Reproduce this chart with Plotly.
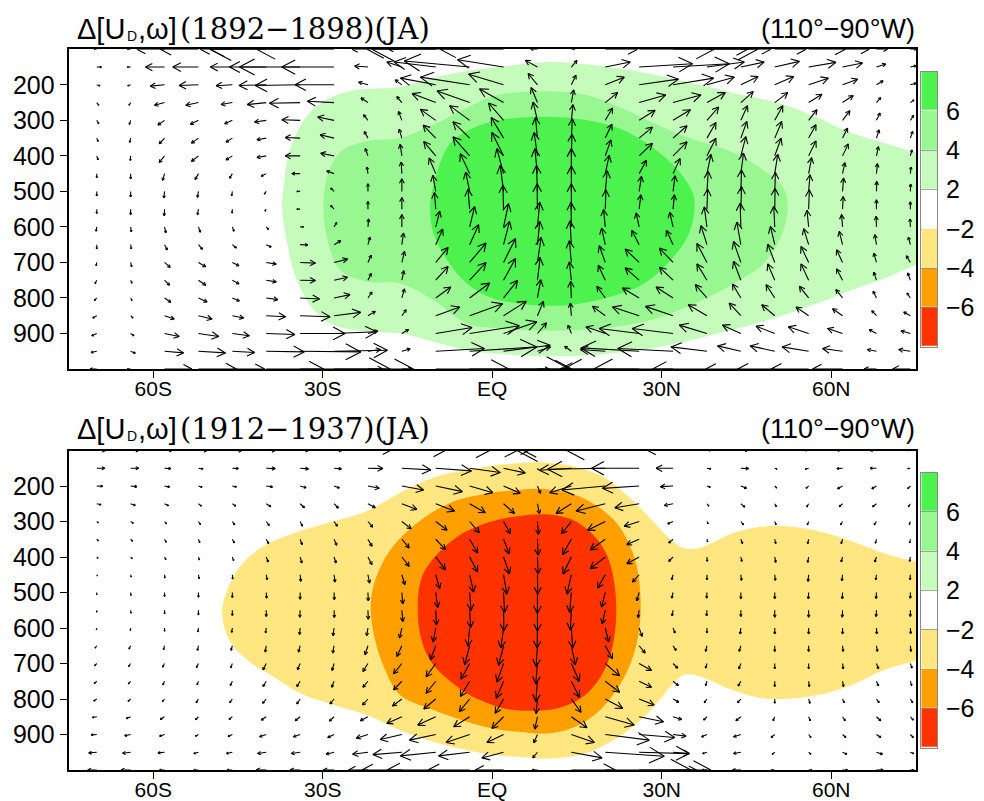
import math
import plotly.graph_objects as go

# ---------- data ----------
lat_grid = [-70, -64, -58, -52, -46, -40, -34, -28, -22, -16, -10, -4, 2, 8, 14, 20, 26, 32, 38, 44, 50, 56, 62, 68, 74]
p_grid = [100, 150, 200, 250, 300, 350, 400, 450, 500, 550, 600, 650, 700, 750, 800, 850, 900, 950, 1000]

p_ticks = [200, 300, 400, 500, 600, 700, 800, 900]
lat_ticks = [-60, -30, 0, 30, 60]
lat_labels = ["60S", "30S", "EQ", "30N", "60N"]
cb_levels = ["−6", "−4", "−2", "2", "4", "6"]
cb_colors = ["#FF3300", "#FFA000", "#FFE680", "#FFFFFF", "#C6FCBB", "#98F790", "#4DF24F"]

title_parts = ["Δ[U", "D", ",ω]"]
title_spans = ["(1892−1898)(JA)", "(1912−1937)(JA)"]
region_label = "(110°−90°W)"

# anomaly contour outlines: upper panel
top_pos2_lat = [-37.2, -36.9, -35.8, -32.8, -29.3, -24.5, -16.3, -10.4, -4.5, 0.2, 9.8, 19.2, 26.9, 34, 42.8, 51.7, 57.6, 63.5, 69.4, 75, 78, 78, 75, 69.4, 63.5, 57.6, 51.7, 45.8, 39.9, 34, 28, 22.2, 16.3, 9.8, 4.5, 0, -4.5, -10.4, -16.3, -22.2, -28.1, -31.6, -34.6, -36.3, -37.2]
top_pos2_p = [542, 486, 382, 288, 241, 215, 206, 180, 161, 152, 136, 147, 166, 190, 223, 256, 293, 335, 364, 392, 410, 690, 707, 745, 778, 815, 848, 876, 900, 923, 942, 954, 962, 964, 961, 956, 947, 923, 900, 895, 876, 834, 749, 646, 542]
top_pos4_lat = [-29.9, -29, -26.6, -22, -16.3, -10.4, -4.5, 0, 4.5, 9.8, 16.3, 22.2, 28, 34, 42.8, 48.7, 51.7, 52.3, 51.1, 48.1, 42.8, 35.2, 28.1, 19.2, 9.8, 1.5, -4.5, -10.4, -16.3, -22.2, -26.9, -29, -29.9]
top_pos4_p = [542, 448, 385, 358, 350, 312, 265, 232, 221, 218, 227, 260, 303, 345, 392, 448, 495, 552, 627, 702, 759, 820, 862, 886, 892, 886, 872, 806, 759, 754, 721, 646, 542]
top_pos6_lat = [-11, -9.8, -7.4, -3.3, 0, 4.5, 9.8, 16.3, 22.2, 28.1, 32.8, 35.5, 35.8, 34.6, 31.6, 26.9, 21, 15.1, 9.8, 4.5, 0, -4.5, -8, -10.4, -11]
top_pos6_p = [542, 448, 364, 321, 303, 293, 290, 298, 321, 373, 439, 505, 552, 627, 693, 759, 796, 817, 822, 815, 801, 759, 693, 618, 542]

# anomaly contour outlines: lower panel
bot_neg2_lat = [-47.8, -47, -44.6, -40.5, -34, -28.1, -22.2, -16.3, -10.4, -4.5, 0, 4.5, 9.8, 15.1, 19.8, 24, 28.1, 31.6, 34, 36.3, 38.7, 42.8, 47.6, 51.7, 57.6, 63.5, 69.4, 75, 78, 78, 75, 69.4, 63.5, 57.6, 51.7, 47, 41.7, 36.9, 34, 31.6, 28.1, 24.5, 20.4, 16.3, 9.8, 4.5, 0, -4.5, -10.4, -16.3, -22.2, -28.1, -34, -38.7, -42.2, -45.8, -47.3, -47.8]
bot_neg2_p = [549, 497, 426, 370, 327, 299, 271, 219, 176, 155, 143, 136, 134, 148, 176, 228, 294, 351, 376, 376, 362, 332, 315, 313, 327, 355, 390, 414, 430, 680, 692, 718, 761, 789, 800, 796, 770, 737, 732, 765, 831, 883, 925, 954, 968, 963, 958, 944, 921, 888, 845, 817, 784, 737, 704, 652, 605, 549]
bot_neg4_lat = [-21.5, -20.7, -18, -13.3, -7.4, 0, 4.5, 9.8, 14.5, 18.6, 22.2, 25.1, 26.2, 26, 24.5, 21.6, 18.1, 13.9, 9.8, 4.5, 0, -4.5, -10.4, -16.3, -19.2, -21, -21.5]
bot_neg4_p = [530, 464, 379, 304, 247, 219, 211, 209, 224, 257, 308, 398, 501, 605, 699, 784, 845, 883, 897, 892, 883, 864, 831, 789, 709, 615, 530]
bot_neg6_lat = [-13.2, -12.4, -9.8, -7.2, -4.5, 0, 4.5, 9.8, 14, 17.5, 20.4, 21.9, 21.3, 19.2, 15.7, 11.6, 7.4, 2.1, -1.4, -4.5, -10.4, -12.4, -13.2]
bot_neg6_p = [544, 454, 393, 355, 327, 299, 285, 280, 294, 332, 398, 520, 652, 737, 798, 826, 833, 827, 808, 784, 704, 640, 544]

# circulation vectors, rows follow p_grid, columns follow lat_grid
top_u = [
 [-8,-10,-83,-114,-96,-168,-270,-232,-48,-40,-206,-293,-190,-20,10,97,225,254,122,90,94,110,80,33,17],
 [14,-10,-57,-77,-66,-110,-182,-157,-40,-45,-125,-196,-138,-36,17,75,160,169,112,70,74,82,60,28,17],
 [10,-9,-43,-58,-49,-82,-135,-117,-28,-20,-106,-148,-105,-28,14,57,118,122,82,52,57,59,45,20,17],
 [6,-5,-30,-38,-34,-57,-92,-80,-21,-15,-71,-98,-72,-19,7,37,80,84,55,37,39,40,32,13,11],
 [6,-4,-20,-24,-23,-35,-55,-49,-13,-10,-46,-60,-45,-13,5,22,48,52,35,20,24,25,22,11,10],
 [4,-3,-16,-21,-19,-28,-45,-42,-11,-8,-38,-50,-37,-6,3,20,40,42,27,18,21,22,15,8,7],
 [4,-1,-16,-21,-19,-28,-45,-40,-8,-5,-36,-50,-35,-10,2,17,40,42,27,15,19,22,17,6,5],
 [0,0,-6,-10,-8,-15,-25,-22,-3,-2,-20,-28,-20,-8,0,12,22,21,12,8,9,9,7,3,2],
 [0,0,-2,-3,-2,-6,-10,-10,0,0,-9,-12,-10,-3,0,6,7,6,4,2,2,4,3,1,1],
 [0,0,-1,-3,-1,-4,-10,-10,0,0,-4,-5,-2,-1,0,2,5,4,2,2,1,2,2,0,0],
 [-2,2,4,6,5,7,10,8,2,0,12,15,15,7,-1,-5,-9,-10,-8,-2,-3,-5,-3,-1,-1],
 [0,2,8,12,12,15,23,20,6,5,21,27,18,7,-4,-11,-22,-20,-18,-12,-13,-15,-10,-5,-6],
 [-2,3,17,22,20,30,46,41,10,8,37,49,36,11,-6,-18,-42,-41,-30,-22,-21,-23,-18,-8,-12],
 [-5,4,15,22,20,30,46,41,10,6,37,49,36,8,-6,-21,-42,-41,-30,-22,-21,-23,-18,-8,-8],
 [-7,4,19,26,21,35,58,48,12,8,45,60,42,10,-2,-25,-50,-51,-35,-25,-26,-28,-20,-10,-10],
 [-12,7,29,41,34,58,90,80,22,13,72,99,68,18,-3,-38,-80,-83,-56,-35,-39,-38,-30,-14,-20],
 [-15,10,44,61,51,86,135,128,30,20,109,149,100,27,-10,-58,-120,-123,-83,-55,-56,-61,-45,-22,-28],
 [-17,14,57,81,67,114,182,160,38,25,146,202,140,39,-20,-75,-175,-166,-108,-70,-74,-80,-60,-27,-35],
 [-20,-10,82,114,97,172,270,238,45,30,219,300,205,35,-25,-135,-227,-238,-163,-105,-111,-113,-90,-37,-53],
]
top_v = [
 [0]*25,
 [0,0,0,0,0,0,0,0,3,15,15,18,22,20,20,15,10,10,15,15,17,14,12,9,4],
 [-3,-3,-4,-2,-3,-2,-2,0,8,15,20,23,32,34,29,23,17,20,23,25,25,20,17,12,5],
 [-8,-8,-8,-8,-6,-6,-2,4,14,18,27,35,41,45,38,30,23,23,30,33,30,25,21,15,8],
 [-10,-12,-14,-12,-10,-5,2,10,17,27,33,44,52,55,47,37,30,32,40,44,44,32,29,22,15],
 [-10,-13,-17,-15,-12,-5,2,10,20,27,39,49,62,62,58,42,33,37,47,50,50,40,30,25,20],
 [-12,-14,-20,-17,-12,-5,0,8,22,35,43,57,70,70,65,48,38,42,53,58,53,45,36,28,18],
 [-12,-16,-20,-18,-14,-8,0,8,20,35,47,60,75,75,75,55,40,45,58,62,58,48,33,30,20],
 [-14,-17,-20,-18,-13,-8,0,10,23,38,48,58,78,78,76,62,45,47,60,65,57,50,40,30,22],
 [-13,-17,-20,-17,-12,-6,0,11,23,35,50,60,72,76,76,58,43,43,60,68,63,58,38,28,22],
 [-13,-15,-18,-16,-13,-8,0,13,24,37,47,61,70,74,74,52,42,44,60,72,62,50,37,32,24],
 [-13,-13,-16,-14,-10,-7,-1,12,23,35,47,60,70,70,72,50,43,43,57,68,55,48,40,30,23],
 [-10,-13,-15,-13,-10,-5,-2,10,22,33,45,58,72,75,65,50,40,43,57,63,55,48,38,28,20],
 [-10,-9,-15,-15,-11,-5,-1,9,20,29,41,53,65,68,55,45,37,39,49,57,49,49,34,24,22],
 [-8,-8,-13,-12,-9,-5,-3,10,18,27,33,45,53,55,50,35,30,33,40,42,40,35,25,20,15],
 [-7,-7,-10,-10,-7,-3,-3,10,13,18,26,36,43,43,38,28,26,28,33,38,33,26,21,15,11],
 [-7,-7,-9,-9,-7,-3,0,5,8,12,18,23,35,32,25,20,15,15,25,25,22,20,15,12,8],
 [-4,-6,-5,-5,-4,-2,-2,3,5,7,8,13,18,13,15,5,10,8,13,16,16,13,8,5,5],
 [0]*25,
]
bot_u = [
 [26,24,22,26,29,27,25,23,67,130,162,142,75,-5,-143,-265,-217,-76,10,20,-5,-10,-15,-18,-8],
 [24,24,19,14,18,27,25,22,45,87,107,92,65,3,-96,-173,-143,-51,12,23,7,-10,-17,-19,-8],
 [18,19,15,11,12,19,18,16,34,65,80,70,50,9,-65,-130,-110,-38,10,17,6,-8,-15,-14,-8],
 [13,14,12,9,10,14,13,13,22,45,56,47,33,6,-46,-88,-73,-26,6,12,5,-6,-10,-12,-6],
 [5,8,6,6,7,9,7,10,14,28,34,29,20,3,-30,-53,-45,-16,4,8,4,-4,-6,-7,-3],
 [5,6,5,4,6,7,6,8,12,22,29,24,17,2,-26,-45,-37,-13,2,5,3,-3,-4,-3,-2],
 [4,5,4,3,4,6,5,6,12,22,29,24,18,2,-25,-45,-37,-13,1,3,3,-3,-4,-5,-2],
 [2,2,1,2,1,3,2,3,5,9,12,12,10,1,-13,-23,-20,-4,0,2,2,-2,-2,-2,-1],
 [0,1,0,0,0,1,0,1,1,3,6,4,3,0,-5,-11,-7,-4,-1,0,0,-1,-1,-1,0],
 [0,1,0,0,0,0,-1,1,1,3,2,3,1,0,-3,-9,-3,-3,-1,0,0,0,-1,-1,0],
 [-1,-1,0,-2,-2,-2,-2,-3,-4,-7,-8,-5,-8,-1,4,10,9,6,0,-2,0,0,0,1,1],
 [-5,-5,-3,-3,-4,-3,-5,-4,-9,-15,-16,-15,-15,-4,12,22,18,9,-4,-5,0,0,2,3,2],
 [-7,-6,-6,-6,-5,-10,-8,-6,-15,-25,-29,-26,-20,-5,24,43,37,14,-4,-6,0,0,2,6,5],
 [-8,-7,-5,-4,-6,-10,-10,-7,-15,-25,-29,-28,-22,-5,24,43,37,16,-4,-8,0,2,3,6,4],
 [-9,-8,-7,-7,-8,-11,-10,-12,-16,-28,-36,-31,-25,-4,29,52,45,17,-8,-10,0,4,5,8,7],
 [-13,-13,-13,-9,-10,-15,-15,-14,-23,-45,-54,-48,-35,-8,47,87,73,26,-10,-15,-5,5,8,13,9],
 [-17,-18,-15,-9,-13,-20,-20,-19,-35,-65,-79,-71,-50,-11,69,132,107,39,-16,-22,-11,7,10,13,9],
 [-24,-24,-20,-14,-18,-26,-27,-24,-46,-87,-106,-93,-65,-14,92,177,150,49,-13,-22,-8,7,13,18,10],
 [-27,-29,-15,-14,-16,-30,-30,-32,-58,-120,-146,-125,-85,-16,132,257,215,70,-14,-25,-10,10,15,20,10],
]
bot_v = [
 [0]*25,
 [0,0,-1,-2,-1,-1,-2,-2,-1,-5,-8,-13,-14,-5,-6,-3,0,0,-2,-1,-3,-3,-1,0,-1],
 [-1,-2,-3,-4,-3,-3,-5,-6,-7,-12,-17,-20,-22,-22,-20,-12,-7,-2,-4,-7,-6,-7,-8,-8,-8],
 [-3,-5,-6,-7,-7,-9,-12,-13,-12,-17,-22,-27,-29,-30,-29,-22,-12,-5,-7,-10,-9,-10,-9,-9,-9],
 [-4,-5,-7,-9,-10,-12,-14,-14,-17,-22,-26,-34,-37,-39,-37,-26,-14,-7,-7,-10,-10,-10,-10,-10,-9],
 [-5,-6,-9,-10,-11,-13,-16,-18,-21,-26,-31,-41,-44,-48,-46,-32,-16,-11,-8,-13,-13,-13,-13,-12,-11],
 [-4,-5,-8,-9,-11,-15,-18,-18,-23,-28,-38,-45,-51,-51,-51,-35,-20,-13,-13,-13,-16,-16,-15,-15,-13],
 [-4,-7,-10,-12,-13,-15,-20,-22,-25,-30,-42,-52,-58,-58,-58,-40,-22,-15,-15,-17,-17,-20,-18,-15,-15],
 [-7,-9,-12,-14,-15,-17,-20,-22,-25,-34,-45,-54,-60,-62,-60,-44,-25,-17,-17,-19,-19,-19,-19,-18,-17],
 [-6,-9,-11,-14,-16,-19,-21,-22,-27,-34,-44,-52,-62,-62,-59,-41,-22,-17,-17,-19,-21,-21,-21,-19,-19],
 [-6,-8,-10,-12,-13,-15,-20,-23,-23,-30,-42,-55,-60,-60,-60,-42,-25,-15,-15,-18,-18,-18,-18,-18,-17],
 [-7,-10,-12,-14,-14,-19,-19,-22,-27,-32,-42,-57,-59,-62,-57,-39,-22,-14,-17,-17,-17,-17,-17,-17,-17],
 [-7,-9,-11,-12,-13,-19,-19,-21,-24,-31,-40,-47,-56,-61,-54,-37,-21,-14,-14,-16,-16,-16,-16,-16,-14],
 [-7,-8,-11,-11,-13,-16,-16,-18,-18,-26,-36,-46,-51,-61,-48,-33,-18,-13,-13,-14,-16,-16,-16,-14,-13],
 [-6,-7,-8,-11,-11,-13,-15,-15,-18,-21,-30,-38,-43,-44,-40,-28,-18,-10,-11,-11,-13,-13,-11,-11,-11],
 [-2,-5,-8,-9,-8,-10,-12,-13,-12,-20,-25,-30,-35,-37,-33,-25,-15,-8,-10,-12,-12,-12,-12,-12,-10],
 [-1,-4,-5,-5,-6,-7,-7,-9,-11,-15,-17,-24,-24,-25,-24,-17,-9,-5,-7,-7,-9,-9,-9,-9,-9],
 [-2,-3,-2,-4,-4,-4,-4,-6,-6,-7,-11,-11,-17,-17,-17,-12,-4,-4,-4,-4,-6,-6,-6,-6,-4],
 [0]*25,
]

# ---------- page geometry ----------
W, H = 984, 801
X0, X1 = 68.5, 916.0
PANELS = [(49.3, 369.0), (450.5, 770.0)]
BARS = [(71.7, 347.0), (472.7, 747.7)]
BAR_X = (921.3, 937.0)
PX_PER_DEG = (X1 - X0) / 150.0
PX_PER_HPA = (PANELS[0][1] - PANELS[0][0]) / 900.0
UNIT_PX = 1 / 3.0          # screen pixels per vector unit
HEAD_TAN = math.tan(math.radians(28))


def ypaper(py):
    return 1 - py / H


def ydom(top, bottom):
    return [ypaper(bottom), ypaper(top)]


def quiver(u_rows, v_rows):
    xs, ys = [], []
    for p, ur, vr in zip(p_grid, u_rows, v_rows):
        for lat, u, v in zip(lat_grid, ur, vr):
            dx, dy = u * UNIT_PX, v * UNIT_PX
            length = math.hypot(dx, dy)
            if length == 0:
                continue
            ex, ey = dx / length, dy / length
            h = min(0.2 * length + 3.0, 0.36 * length)
            w = h * HEAD_TAN
            b1 = (dx - h * ex - w * ey, dy - h * ey + w * ex)
            b2 = (dx - h * ex + w * ey, dy - h * ey - w * ex)
            for a, b in [((0, 0), (dx, dy)), (b1, (dx, dy)), ((dx, dy), b2)]:
                xs += [lat + a[0] / PX_PER_DEG, lat + b[0] / PX_PER_DEG, None]
                ys += [p - a[1] / PX_PER_HPA, p - b[1] / PX_PER_HPA, None]
    return xs, ys


def region(lat, p, color, xa, ya):
    return go.Scatter(x=lat, y=p, mode="lines", fill="toself", fillcolor=color,
                      line=dict(color=color, width=0, shape="spline", smoothing=1.0),
                      hoverinfo="skip", showlegend=False, xaxis=xa, yaxis=ya)


fig = go.Figure()
# fill regions
fig.add_trace(region(top_pos2_lat, top_pos2_p, cb_colors[4], "x", "y"))
fig.add_trace(region(top_pos4_lat, top_pos4_p, cb_colors[5], "x", "y"))
fig.add_trace(region(top_pos6_lat, top_pos6_p, cb_colors[6], "x", "y"))
fig.add_trace(region(bot_neg2_lat, bot_neg2_p, cb_colors[2], "x2", "y2"))
fig.add_trace(region(bot_neg4_lat, bot_neg4_p, cb_colors[1], "x2", "y2"))
fig.add_trace(region(bot_neg6_lat, bot_neg6_p, cb_colors[0], "x2", "y2"))
# vectors
for (ur, vr, xa, ya) in [(top_u, top_v, "x", "y"), (bot_u, bot_v, "x2", "y2")]:
    qx, qy = quiver(ur, vr)
    fig.add_trace(go.Scatter(x=qx, y=qy, mode="lines", line=dict(color="black", width=1.1),
                             hoverinfo="skip", showlegend=False, xaxis=xa, yaxis=ya))
# colour keys
band_mid = [i + 0.5 for i in range(len(cb_colors))]
scale = []
for i, c in enumerate(cb_colors):
    scale += [[i / 7, c], [(i + 1) / 7, c]]
for xa, ya in [("x3", "y3"), ("x4", "y4")]:
    fig.add_trace(go.Heatmap(z=[[i] for i in range(7)], y=band_mid, x=[0], zmin=-0.5, zmax=6.5,
                             colorscale=scale, showscale=False, ygap=1, hoverinfo="skip",
                             xaxis=xa, yaxis=ya))

frame = dict(showline=True, mirror=True, linecolor="black", linewidth=1.6, showgrid=False,
             zeroline=False, automargin=False)
tick_x = dict(ticks="outside", ticklen=7, tickwidth=1.2, tickcolor="black",
              tickvals=lat_ticks, ticktext=lat_labels, range=[-75, 75], ticklabelstandoff=-7,
              tickfont=dict(family="Liberation Sans", size=21, color="black"))
tick_y = dict(ticks="outside", ticklen=7, tickwidth=1.2, tickcolor="black",
              tickvals=p_ticks, range=[1000, 100],
              tickfont=dict(family="Liberation Sans", size=25, color="black"))
xdom = [X0 / W, X1 / W]
bar_common = dict(showline=True, mirror=True, linecolor="#8a8a8a", linewidth=1,
                  zeroline=False, automargin=False)
layout = dict(
    width=W, height=H, margin=dict(l=0, r=0, t=0, b=0, autoexpand=False),
    paper_bgcolor="white", plot_bgcolor="white",
    showlegend=False,
    xaxis=dict(domain=xdom, anchor="y", **frame, **tick_x),
    yaxis=dict(domain=ydom(*PANELS[0]), anchor="x", **frame, **tick_y),
    xaxis2=dict(domain=xdom, anchor="y2", **frame, **tick_x),
    yaxis2=dict(domain=ydom(*PANELS[1]), anchor="x2", **frame, **tick_y),
)
for n, (xa, ya, bar) in {3: ("xaxis3", "yaxis3", BARS[0]), 4: ("xaxis4", "yaxis4", BARS[1])}.items():
    layout[xa] = dict(domain=[BAR_X[0] / W, BAR_X[1] / W], anchor=f"y{n}", showticklabels=False,
                      showgrid=False, ticks="", range=[-0.5, 0.5], **bar_common)
    layout[ya] = dict(domain=ydom(*bar), anchor=f"x{n}", side="right", range=[0, 7],
                      showgrid=True, gridcolor="#8a8a8a", gridwidth=1,
                      tickvals=[1, 2, 3, 4, 5, 6], ticktext=cb_levels, ticks="outside",
                      ticklen=3, tickcolor="rgba(0,0,0,0)",
                      tickfont=dict(family="Liberation Sans", size=25, color="black"), **bar_common)
fig.update_layout(**layout)

TITLE_Y = [29, 429]
for ty, span in zip(TITLE_Y, title_spans):
    def note(text, x, y, family, size, anchor="left"):
        fig.add_annotation(text=text, xref="paper", yref="paper", x=x / W, y=ypaper(y),
                           xanchor=anchor, yanchor="middle", showarrow=False,
                           font=dict(family=family, size=size, color="black"))
    note(title_parts[0], 75, ty, "Liberation Sans", 29)
    note(title_parts[1], 125, ty + 7, "Liberation Sans", 14)
    note(title_parts[2], 135.5, ty, "Liberation Sans", 29)
    note(span, 178, ty, "DejaVu Serif", 29)
    note(region_label, 917, ty, "Liberation Sans", 27, "right")

fig.write_html("out.html", config=dict(displayModeBar=False),
               post_script="document.body.style.margin='0';")
